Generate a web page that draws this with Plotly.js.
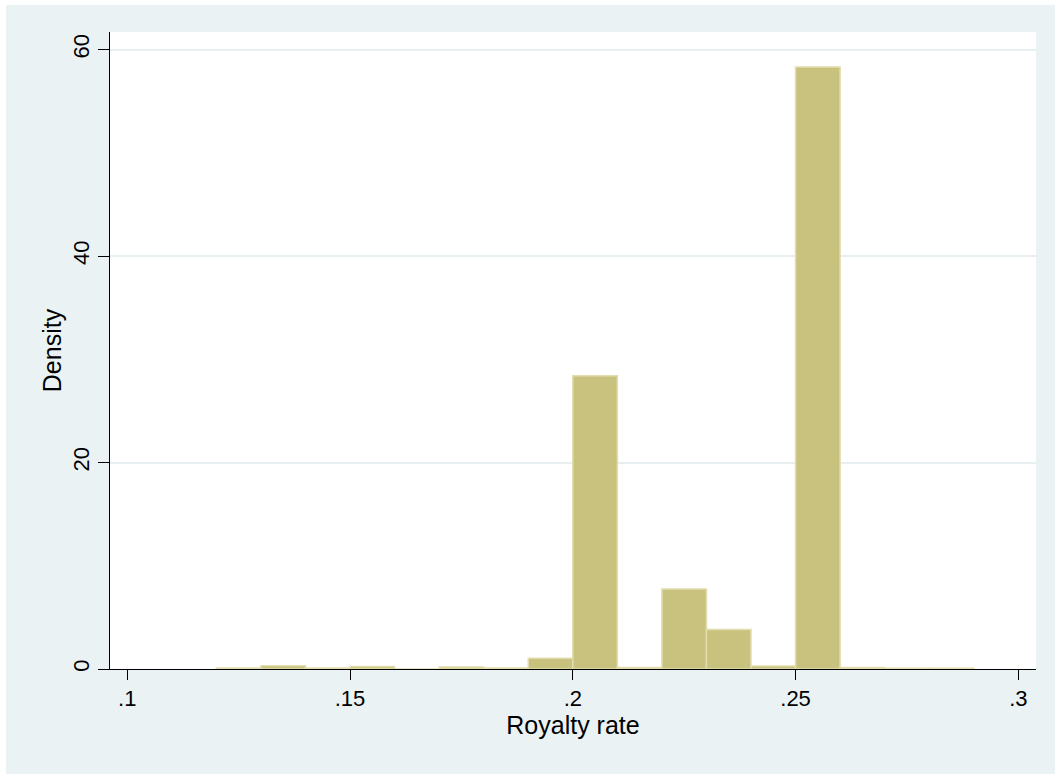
<!DOCTYPE html>
<html>
<head>
<meta charset="utf-8">
<script src="https://cdn.plot.ly/plotly-3.0.1.min.js"></script>
<style>
  html, body { margin: 0; padding: 0; background: #EAF2F3; overflow: hidden; }
  #topstrip { position: absolute; left: 0; top: 0; width: 100%; height: 5px; background: #ffffff; }
  #leftstrip { position: absolute; left: 0; top: 0; width: 6px; height: 100%; background: #ffffff; }
  #chart { position: absolute; left: 6px; top: 5px; width: 1049px; height: 769px; }
</style>
</head>
<body>
<div id="topstrip"></div>
<div id="leftstrip"></div>
<div id="chart"></div>
<script>
// Histogram bins (left edges), width 0.01
const binStart = [0.12, 0.13, 0.14, 0.15, 0.16, 0.17, 0.18, 0.19, 0.20, 0.21, 0.22, 0.23, 0.24, 0.25, 0.26, 0.27, 0.28];
const density  = [0.10, 0.32, 0.10, 0.25, 0.00, 0.20, 0.10, 1.03, 28.4, 0.15, 7.76, 3.82, 0.30, 58.3, 0.15, 0.08, 0.08];
const binWidth = 0.01;

const xTickVals = [0.1, 0.15, 0.2, 0.25, 0.3];
const xTickText = ['.1', '.15', '.2', '.25', '.3'];
const yTickVals = [0, 20, 40, 60];
const yTickText = ['0', '20', '40', '60'];

const xTitle = 'Royalty rate';
const yTitle = 'Density';

const centers = binStart.map(b => b + binWidth / 2);

const trace = {
  type: 'bar',
  x: centers,
  y: density,
  width: binStart.map(() => binWidth),
  marker: {
    color: '#C9C27E',
    line: { color: '#E2DDAE', width: 1.5 }
  },
  hoverinfo: 'x+y'
};

const fontFam = '"Liberation Sans", Arial, Helvetica, sans-serif';

const layout = {
  width: 1049,
  height: 769,
  paper_bgcolor: '#EAF2F3',
  plot_bgcolor: '#FFFFFF',
  margin: { l: 104, r: 19, t: 27, b: 104.5, pad: 0 },
  showlegend: false,
  bargap: 0,
  font: { family: fontFam, color: '#000000', size: 22 },
  xaxis: {
    range: [0.09612, 0.30397],
    tickvals: xTickVals,
    ticktext: xTickText,
    ticks: 'outside',
    ticklen: 10,
    tickwidth: 1,
    tickcolor: '#000000',
    showline: true,
    linecolor: '#000000',
    linewidth: 1,
    showgrid: false,
    zeroline: false,
    tickfont: { family: fontFam, size: 22, color: '#000000' },
    title: { text: xTitle, font: { family: fontFam, size: 25, color: '#000000' }, standoff: 2 },
    automargin: false
  },
  yaxis: {
    range: [0, 61.7],
    tickvals: yTickVals,
    ticktext: yTickText,
    tickangle: -90,
    ticks: 'outside',
    ticklen: 11,
    tickwidth: 1,
    tickcolor: '#000000',
    showline: true,
    linecolor: '#000000',
    linewidth: 1,
    showgrid: true,
    gridcolor: '#E8EFF1',
    gridwidth: 2,
    zeroline: false,
    tickfont: { family: fontFam, size: 22, color: '#000000' },
    title: { text: yTitle, font: { family: fontFam, size: 25, color: '#000000' }, standoff: 0 },
    automargin: false
  }
};

Plotly.newPlot('chart', [trace], layout, { displayModeBar: false, staticPlot: true });
</script>
</body>
</html>
